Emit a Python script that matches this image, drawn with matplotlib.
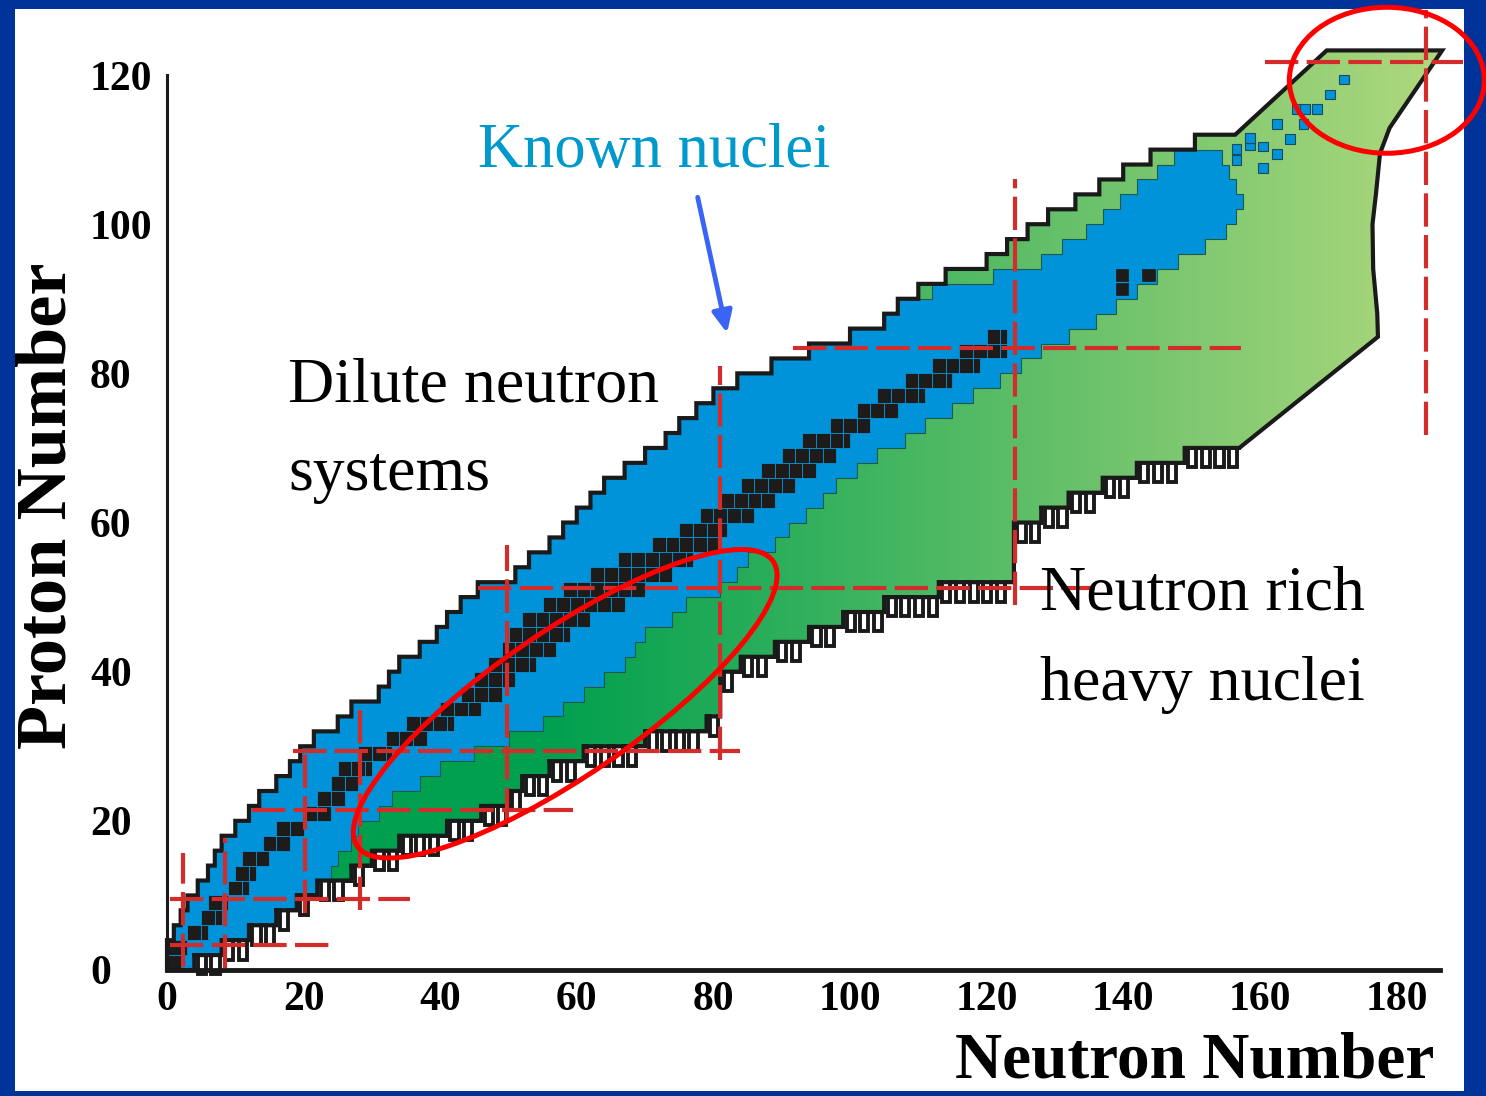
import numpy as np
import matplotlib
matplotlib.use("Agg")
import matplotlib.pyplot as plt
from matplotlib.patches import Polygon, Rectangle, Ellipse
from matplotlib.colors import LinearSegmentedColormap
from matplotlib.transforms import Affine2D

plt.rcParams['font.family'] = ['Liberation Serif', 'DejaVu Serif']

# ---------------- values ----------------
# one row of cells every 2 protons, value = neutron number of the edge
rows_z = np.arange(0, 112, 2)

# proton-rich edge of the predicted region (Z = 0 ... 110)
env_left = [0, 0, 1, 2, 3, 4.5, 6, 7, 8, 10,
            12, 13.5, 16, 18, 19.5, 21.5, 25, 27, 31, 32.5,
            34, 37, 39.5, 41, 43, 45.5, 51, 53, 56, 58,
            60, 62, 64, 67, 70, 73, 75, 77.5, 80, 83.5,
            88.5, 94, 100, 105, 107, 110, 114, 120, 123, 126,
            129, 133, 136.5, 140, 144, 150.5]

# neutron-rich edge, staircase part (Z = 0 ... 68)
env_right = [4, 8, 12, 16, 19, 22, 27, 30, 34, 41,
             46, 50, 52, 56, 61, 70, 79, 81, 81, 81,
             84, 89, 94, 99, 105, 113, 124, 124, 124, 124,
             128, 132, 137, 142, 149]

# smooth part of the neutron-rich edge and the top
right_curve_n = [157, 177.3, 177.2, 176.6, 176.5, 177.0, 177.6, 179.0, 186.7]
right_curve_z = [70, 84.9, 88, 94, 100, 104, 109.5, 112.9, 123.3]
top_left_n = [169.8, 156.4]
top_left_z = [123.3, 112]

# known nuclei (blue), Z = 0 ... 108
blue_left_top = [112, 121, 128, 131, 134.5, 137, 139.5, 142, 145, 147.5]   # Z = 90 ... 108
blue_right = [4, 8, 12, 16, 19, 22, 24, 25, 27, 28,
              31, 33, 37, 40, 45, 50, 55, 58, 61, 64,
              67, 68.5, 70, 74, 76, 81, 83.5, 85, 89, 91,
              93.5, 96, 98, 101, 104, 108, 111, 115, 118, 122,
              125, 128, 132, 136, 139, 142, 145, 148, 152, 155,
              156.5, 157.5, 156.5, 155.5, 154.5]

# stable nuclei (black), Z = 0 ... 84
stable_lo = [0, 0, 3, 5, 6, 9, 10, 11, 14, 16,
             20, 22, 24, 25, 28, 32, 35, 40, 43, 45,
             47, 49, 50, 52, 55, 58, 62, 66, 71, 75,
             78, 81, 84, 87, 90, 93, 97, 101, 104, 108,
             112, 116, 120]
stable_hi = [2, 3, 6, 8, 9, 12, 13, 15, 18, 20,
             24, 26, 28, 30, 33, 38, 42, 46, 49, 51,
             54, 57, 59, 62, 67, 70, 74, 77, 81, 82,
             86, 89, 92, 95, 98, 100, 103, 107, 111, 115,
             119, 123, 123]
stable_extra_n = [139.8, 143.7, 139.8]
stable_extra_z = [93.2, 93.2, 91.3]

# isolated known superheavy nuclei
heavy_n = [156.6, 156.6, 158.6, 158.6, 160.5, 162.5, 160.5, 162.5, 164.4,
           166.4, 165.4, 166.6, 168.4, 170.3, 172.3]
heavy_z = [108.6, 110.1, 110.6, 111.6, 110.4, 109.4, 107.5, 113.4, 111.4,
           113.4, 115.4, 115.4, 115.4, 117.4, 119.4]

# magic-number lines as drawn
magic_v_n = [2.4, 8.5, 20.2, 28.3, 49.8, 81.0, 124.2, 184.3]
magic_v_z0 = [0.4, 0.3, 7.6, 8.0, 20.0, 28.2, 49.0, 71.8]
magic_v_z1 = [15.7, 17.7, 29.9, 34.9, 57.0, 81.0, 106.0, 128.7]
magic_h_z = [3.3, 9.5, 21.4, 29.4, 51.2, 83.4, 121.7]
magic_h_n0 = [0.4, 0.4, 12.5, 18.4, 45.5, 91.7, 160.8]
magic_h_n1 = [23.9, 35.6, 59.4, 83.9, 136.6, 157.2, 189.8]

xticks = [0, 20, 40, 60, 80, 100, 120, 140, 160, 180]
yticks = [0, 20, 40, 60, 80, 100, 120]

# ---------------- layout ----------------
W, H = 1486, 1096
X0, SX = 167, 6.83      # pixel of N=0, pixels per neutron
Y0, SY = 970, 7.458     # pixel of Z=0, pixels per proton
L, R, T, B = 15, 1464, 9, 1091   # white panel inside the blue frame

fig = plt.figure(figsize=(W / 100, H / 100), dpi=100, facecolor='#003399')
ax = fig.add_axes([L / W, 1 - B / H, (R - L) / W, (B - T) / H])
ax.set_facecolor('white')

green_edge = '#1a1a1a'
blue_c = '#0093d9'
black_c = '#1e1b1b'
red_c = '#d42b2b'

# predicted region outline (staircase built from rows)
verts = []
for i, r in enumerate(env_right):
    verts += [(r, rows_z[i]), (r, rows_z[i] + 2)]
verts += list(zip(right_curve_n, right_curve_z))
verts += list(zip(top_left_n, top_left_z))
for i in reversed(range(len(env_left))):
    verts += [(env_left[i], rows_z[i] + 2), (env_left[i], rows_z[i])]
env_patch = Polygon(verts, closed=True, fc='none', ec=green_edge, lw=3,
                    joinstyle='miter', zorder=4)
ax.add_patch(env_patch)

# green gradient clipped to the region
cmap = LinearSegmentedColormap.from_list(
    'g', [(0, '#00a04f'), (0.3, '#00a04f'), (1, '#b2d97e')])
grad = np.linspace(0, 1, 512).reshape(1, -1)
im = ax.imshow(grad, extent=(0, 188, 0, 124), aspect='auto', cmap=cmap,
               origin='lower', zorder=1, interpolation='bilinear')
im.set_clip_path(env_patch)

# known nuclei
blue_left = list(env_left[:45]) + blue_left_top
bverts = []
for i, r in enumerate(blue_right):
    bverts += [(r, rows_z[i]), (r, rows_z[i] + 2)]
for i in reversed(range(len(blue_left))):
    bverts += [(blue_left[i], rows_z[i] + 2), (blue_left[i], rows_z[i])]
ax.add_patch(Polygon(bverts, closed=True, fc=blue_c, ec='#1d5a4a', lw=0.8,
                     joinstyle='miter', zorder=2))

for n, z in zip(heavy_n, heavy_z):
    ax.add_patch(Rectangle((n - 0.7, z - 0.65), 1.4, 1.3, fc=blue_c,
                           ec='#1d4a5a', lw=0.8, zorder=3))

# stable nuclei
for i, (lo, hi) in enumerate(zip(stable_lo, stable_hi)):
    for n in np.arange(lo, hi, 2):
        ax.add_patch(Rectangle((n, rows_z[i]), min(2, hi - n), 2, fc=black_c,
                               ec=blue_c, lw=0.6, zorder=3))
for n, z in zip(stable_extra_n, stable_extra_z):
    ax.add_patch(Rectangle((n - 0.9, z - 0.8), 1.8, 1.6, fc=black_c,
                           ec=black_c, lw=0.5, zorder=3))

# comb on the neutron-rich treads
treads = [(env_right[i - 1], env_right[i], rows_z[i])
          for i in range(1, len(env_right)) if env_right[i] - env_right[i - 1] >= 2]
treads.append((env_right[-1], right_curve_n[0], right_curve_z[0]))
for a, b, z in treads:
    cx, cy = [a], [z]
    for x in np.arange(a + 0.5, b - 1.2, 2.0):
        cx += [x, x, x + 1.2, x + 1.2]
        cy += [z, z - 2.6, z - 2.6, z]
    cx.append(b)
    cy.append(z)
    ax.plot(cx, cy, color=green_edge, lw=2.8, solid_joinstyle='miter', zorder=4)

# magic numbers
for n, z0, z1 in zip(magic_v_n, magic_v_z0, magic_v_z1):
    ax.plot([n, n], [z0, z1], color=red_c, lw=3, dashes=(8, 2), zorder=5)
for z, n0, n1 in zip(magic_h_z, magic_h_n0, magic_h_n1):
    ax.plot([n0, n1], [z, z], color=red_c, lw=3, dashes=(8, 2), zorder=5)

# ellipses, drawn in pixel units
px_tr = Affine2D().scale(1 / SX, 1 / SY) + ax.transData
ax.add_patch(Ellipse((58.3 * SX, 35.7 * SY), 504, 144, angle=34.4, fc='none',
                     ec='#ff0000', lw=3.6, transform=px_tr, zorder=6))
ax.add_patch(Ellipse((178.6 * SX, 119.3 * SY), 195, 146, angle=0, fc='none',
                     ec='#ff0000', lw=3.6, transform=px_tr, zorder=6,
                     clip_on=False))

# text
ax.text(45.5, 107.7, 'Known nuclei', color='#0099cc', fontsize=45,
        ha='left', va='baseline', zorder=7)
ax.annotate('', xy=(82.0, 85.4), xytext=(77.7, 103.6),
            arrowprops=dict(arrowstyle='-|>,head_length=0.65,head_width=0.3',
                            color='#3b64f5', lw=3.5, mutation_scale=20,
                            shrinkA=0, shrinkB=0), zorder=7)
ax.text(17.7, 76.2, 'Dilute neutron', fontsize=46, ha='left', va='baseline', zorder=7)
ax.text(17.7, 64.4, 'systems', fontsize=46, ha='left', va='baseline', zorder=7)
ax.text(127.8, 48.3, 'Neutron rich', fontsize=46, ha='left', va='baseline', zorder=7)
ax.text(127.8, 36.2, 'heavy nuclei', fontsize=46, ha='left', va='baseline', zorder=7)

ax.text(185.6, (Y0 - 1077) / SY, 'Neutron Number', fontsize=47, weight='bold',
        ha='right', va='baseline', zorder=7)
ax.text((65 - X0) / SX, 62.3, 'Proton Number', fontsize=52, weight='bold',
        rotation=90, rotation_mode='anchor', ha='center', va='baseline', zorder=7)

# axes
for s in ['top', 'right']:
    ax.spines[s].set_visible(False)
ax.spines['bottom'].set_position(('data', 0))
ax.spines['bottom'].set_bounds(0, 186.4)
ax.spines['bottom'].set_linewidth(3.5)
ax.spines['left'].set_position(('data', 0))
ax.spines['left'].set_bounds(0, 120)
ax.spines['left'].set_linewidth(2.2)
for s in ['bottom', 'left']:
    ax.spines[s].set_color('#1a1a1a')
    ax.spines[s].set_zorder(4.5)

ax.set_xticks(xticks)
ax.set_yticks(yticks)
ax.tick_params(axis='both', length=0, labelsize=30)
ax.tick_params(axis='x', pad=8)
ax.tick_params(axis='y', pad=(X0 - 90) * 0.72)
for lbl in ax.get_xticklabels() + ax.get_yticklabels():
    lbl.set_fontweight('bold')
for lbl in ax.get_yticklabels():
    lbl.set_horizontalalignment('left')

ax.set_xlim((L - X0) / SX, (R - X0) / SX)
ax.set_ylim((Y0 - B) / SY, (Y0 - T) / SY)

fig.savefig('out.png', dpi=100, facecolor=fig.get_facecolor())
